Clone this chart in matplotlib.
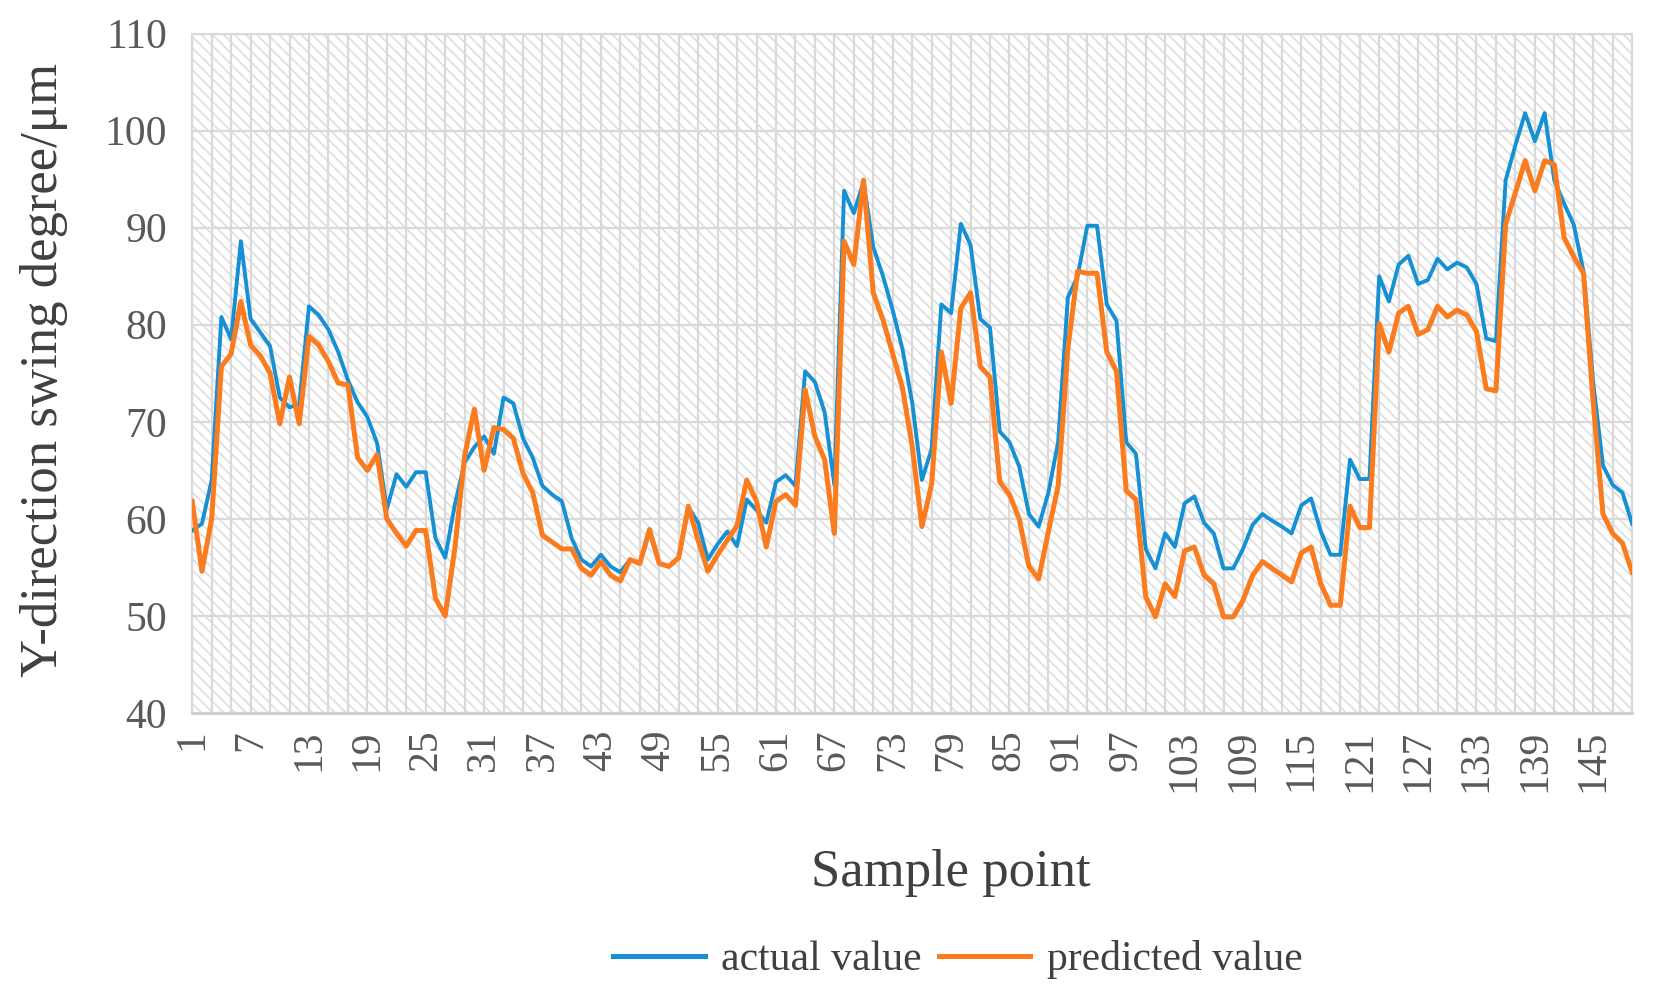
import matplotlib
matplotlib.use("Agg")
import matplotlib.pyplot as plt
import numpy as np

# values, sample 1..149
actual = [
    58.8, 59.5, 64.0, 80.8, 78.5, 88.6, 80.6, 79.2, 77.8, 72.5,
    71.5, 71.8, 81.9, 81.0, 79.5, 77.2, 74.3, 72.0, 70.5, 67.8,
    61.0, 64.6, 63.3, 64.8, 64.8, 58.0, 56.0, 61.5, 65.8, 67.4,
    68.5, 66.7, 72.5, 71.9, 68.3, 66.3, 63.4, 62.5, 61.8, 58.0,
    55.8, 55.1, 56.3, 55.1, 54.5, 55.8, 55.4, 58.7, 55.4, 55.1,
    56.0, 61.2, 59.6, 55.8, 57.4, 58.7, 57.2, 62.0, 60.9, 59.6,
    63.8, 64.5, 63.4, 75.2, 74.1, 71.0, 63.5, 93.8, 91.5, 94.7,
    88.0, 85.0, 81.5, 77.5, 72.0, 64.0, 67.2, 82.1, 81.2, 90.4,
    88.2, 80.6, 79.7, 69.0, 67.9, 65.4, 60.5, 59.2, 62.7, 67.9,
    82.8, 85.0, 90.2, 90.2, 82.1, 80.4, 67.9, 66.7, 56.9, 54.9,
    58.5, 57.1, 61.6, 62.3, 59.6, 58.5, 54.9, 54.9, 56.9, 59.4,
    60.5, 59.8, 59.2, 58.5, 61.4, 62.1, 58.7, 56.3, 56.3, 66.1,
    64.1, 64.1, 85.0, 82.4, 86.2, 87.1, 84.2, 84.6, 86.8, 85.7,
    86.4, 85.9, 84.2, 78.6, 78.3, 94.9, 98.5, 101.8, 98.9, 101.8,
    94.9, 92.5, 90.3, 85.5, 74.0, 65.5, 63.5, 62.7, 59.5,
]
predicted = [
    61.8, 54.6, 60.0, 75.7, 77.0, 82.4, 77.9, 76.8, 75.0, 69.8,
    74.6, 69.8, 78.8, 77.9, 76.2, 74.0, 73.8, 66.3, 65.0, 66.6,
    60.0, 58.5, 57.2, 58.8, 58.8, 51.8, 50.0, 57.0, 66.5, 71.3,
    65.0, 69.4, 69.2, 68.3, 64.7, 62.7, 58.3, 57.6, 56.9, 56.9,
    54.9, 54.2, 55.6, 54.2, 53.6, 55.8, 55.4, 58.9, 55.4, 55.1,
    56.0, 61.3, 57.8, 54.6, 56.3, 57.8, 59.3, 64.0, 61.8, 57.1,
    61.8, 62.5, 61.4, 73.3, 68.5, 66.1, 58.5, 88.6, 86.2, 94.9,
    83.3, 80.5, 77.0, 73.5, 67.5, 59.2, 63.6, 77.2, 71.9, 81.7,
    83.3, 75.7, 74.6, 63.8, 62.5, 60.0, 55.1, 53.8, 58.7, 63.4,
    77.5, 85.5, 85.3, 85.3, 77.2, 75.2, 62.9, 62.0, 52.0, 49.9,
    53.3, 52.0, 56.7, 57.1, 54.2, 53.3, 49.9, 49.9, 51.6, 54.2,
    55.6, 54.9, 54.2, 53.5, 56.5, 57.1, 53.3, 51.1, 51.1, 61.3,
    59.1, 59.1, 80.1, 77.2, 81.2, 81.9, 79.0, 79.5, 81.9, 80.8,
    81.5, 81.0, 79.3, 73.4, 73.2, 90.4, 93.6, 96.9, 93.8, 96.9,
    96.5, 89.0, 87.0, 85.3, 72.0, 60.5, 58.5, 57.5, 54.5,
]
samples = np.arange(1, len(actual) + 1)
x_tick_labels = list(range(1, 146, 6))
y_ticks = list(range(40, 111, 10))

plt.rcParams['font.family'] = ['Liberation Serif', 'DejaVu Serif']
plt.rcParams['hatch.linewidth'] = 1.2

fig = plt.figure(figsize=(16.57, 10.08), dpi=100)
ax = fig.add_axes([0.116, 0.2927, 0.869, 0.674])

# hatched plot area
ax.set_facecolor('white')
ax.patch.set_hatch('\\\\\\')
ax.patch.set_edgecolor('#dedede')

ax.plot(samples, actual, color='#1590d5', lw=2.8, label='actual value', zorder=3)
ax.plot(samples, predicted, color='#fb7b1f', lw=3.6, label='predicted value', zorder=4)

ax.set_xlim(1, len(samples))
ax.set_ylim(40, 110)
ax.set_yticks(y_ticks)
ax.set_xticks(x_tick_labels)
ax.set_xticklabels([str(v) for v in x_tick_labels], rotation=90)
ax.set_xticks(np.arange(1, len(samples) + 1, 2), minor=True)

ax.set_axisbelow(True)
ax.yaxis.grid(True, color='#d9d9d9', lw=1.6)
ax.xaxis.grid(True, which='both', color='#d9d9d9', lw=1.6)

ax.tick_params(axis='both', which='both', length=0)
ax.tick_params(axis='y', labelsize=30, labelcolor='#595959', pad=18)
ax.tick_params(axis='x', labelsize=30, labelcolor='#595959', pad=12)

for side in ['left', 'right', 'top']:
    ax.spines[side].set_color('#d9d9d9')
    ax.spines[side].set_linewidth(1.5)
ax.spines['bottom'].set_color('#d0d0d0')
ax.spines['bottom'].set_linewidth(2.2)

fig.text(0.0266, 0.633, 'Y-direction swing degree/\u03bcm', rotation=90,
         ha='center', va='center', fontsize=38, color='#404040')
fig.text(0.574, 0.134, 'Sample point', ha='center', va='center',
         fontsize=38, color='#404040')

leg = fig.legend(loc='center', bbox_to_anchor=(0.578, 0.048), ncol=2,
                 frameon=False, fontsize=30, handlelength=2.2,
                 columnspacing=0.4, handletextpad=0.4)
for t in leg.get_texts():
    t.set_color('#404040')
for h in leg.legend_handles:
    h.set_linewidth(3.6)

fig.savefig('out.png', dpi=100)
